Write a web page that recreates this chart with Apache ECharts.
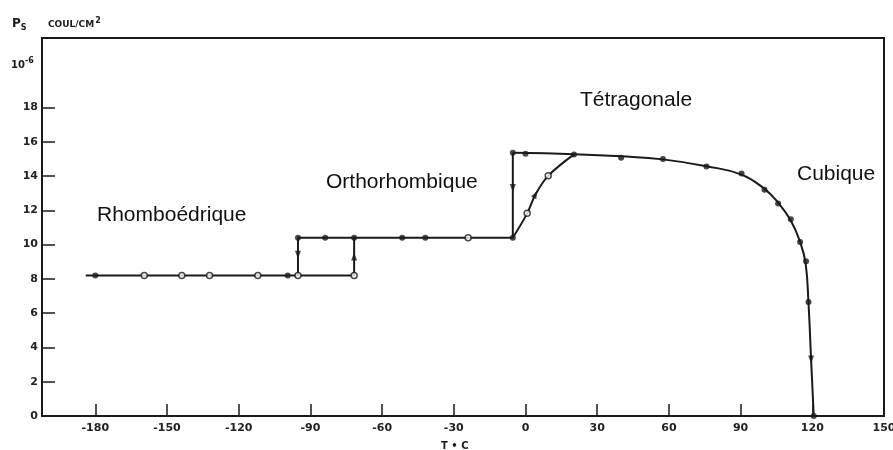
<!DOCTYPE html>
<html><head><meta charset="utf-8">
<script src="https://cdn.jsdelivr.net/npm/echarts@6/dist/echarts.min.js"></script>
<style>html,body{margin:0;padding:0;background:#fff}#c{width:893px;height:450px}</style>
</head><body><div id="c"></div>
<script>
// tick labels
const xTicks = [-180,-150,-120,-90,-60,-30,0,30,60,90,120,150];
const xTickMarks = [-180,-150,-120,-90,-60,-30,0,30,60,90,120];
const yTicks = [0,2,4,6,8,10,12,14,16,18];
const yTickMarks = [2,4,6,8,10,12,14,16,18];

// lines (T in °C, Ps in 1e-6 C/cm²)
const rhombLine = [[-184,8.2],[-71.7,8.2],[-71.7,10.4]];
const coolStep = [[-95.2,10.4],[-95.2,8.2]];
const orthoLine = [[-95.2,10.4],[-5.3,10.4],[-5.3,15.35]];
const riseCurve = [[-5.3,10.4],[0.7,11.82],[4.2,12.93],[9.5,14.01],[20.3,15.26]];
const tetraCurve = [[-5.3,15.35],[20.3,15.27],[40,15.15],[57.5,14.97],[75.7,14.57],[90.4,14.08],[100,13.25],[105.7,12.45],[111,11.4],[114.9,10.15],[117.2,8.9],[118.4,6.6],[119.5,3.3],[120.6,0]];

// measured points
const filledPts = [[-180,8.2],[-99.5,8.2],[-95.2,10.4],[-83.8,10.4],[-71.7,10.4],[-51.6,10.4],[-41.9,10.4],[-5.3,10.4],[-5.3,15.35],[0,15.3],[20.3,15.26],[40,15.06],[57.5,14.99],[75.7,14.55],[90.4,14.15],[100,13.2],[105.7,12.4],[111,11.47],[114.9,10.15],[117.4,9.02],[118.4,6.65],[120.6,0]];
const openPts = [[-159.5,8.2],[-143.8,8.2],[-132.2,8.2],[-112,8.2],[-95.2,8.2],[-71.7,8.2],[-24,10.4],[0.7,11.82],[9.5,14.01]];
const arrowsDown = [[-95.2,9.4],[-5.3,13.3],[119.5,3.3]];
const arrowsUp = [[-71.7,9.3]];
const arrowsTilt = [[4.2,12.93]];

const phaseNames = ['Rhomboédrique','Orthorhombique','Tétragonale','Cubique'];

const INK = '#1a1a1a';
const chart = echarts.init(document.getElementById('c'));
const lineS = (data, smooth) => ({
  type: 'line', data, symbol: 'none', smooth: smooth || false,
  lineStyle: {color: INK, width: 2}, silent: true, z: 2
});
const axisFont = {fontFamily: 'DejaVu Sans', fontSize: 11, fontWeight: 'bold', color: '#222'};
const phasePos = [[97, 217], [326, 184], [580, 102], [797, 176]];

chart.setOption({
  animation: false,
  backgroundColor: '#fff',
  grid: {left: 42, right: 9, top: 38, bottom: 34, containLabel: false, outerBoundsMode: 'none',
         show: true, borderColor: INK, borderWidth: 2},
  xAxis: {
    type: 'value', min: -202.3, max: 150,
    axisLine: {show: true, onZero: false, lineStyle: {color: INK, width: 2}},
    axisTick: {show: true, inside: true, length: 12, customValues: xTickMarks, lineStyle: {color: INK, width: 1.5}},
    axisLabel: {show: true, customValues: xTicks, margin: 7, ...axisFont},
    splitLine: {show: false}
  },
  yAxis: {
    type: 'value', min: 0, max: 22.05,
    axisLine: {show: true, onZero: false, lineStyle: {color: INK, width: 2}},
    axisTick: {show: true, inside: true, length: 13, customValues: yTickMarks, lineStyle: {color: INK, width: 1.5}},
    axisLabel: {show: true, customValues: yTicks, margin: 4, ...axisFont},
    splitLine: {show: false}
  },
  series: [
    lineS(rhombLine), lineS(coolStep), lineS(orthoLine),
    lineS(riseCurve, 0.35), lineS(tetraCurve, 0.45),
    {type: 'scatter', data: filledPts, symbol: 'circle', symbolSize: 6,
     itemStyle: {color: INK}, silent: true, z: 3},
    {type: 'scatter', data: openPts, symbol: 'circle', symbolSize: 6,
     itemStyle: {color: '#fff', borderColor: INK, borderWidth: 1.5}, silent: true, z: 3},
    {type: 'scatter', data: arrowsDown, symbol: 'triangle', symbolSize: [6, 8], symbolRotate: 180,
     itemStyle: {color: INK}, silent: true, z: 3},
    {type: 'scatter', data: arrowsUp, symbol: 'triangle', symbolSize: [6, 8],
     itemStyle: {color: INK}, silent: true, z: 3},
    {type: 'scatter', data: arrowsTilt, symbol: 'triangle', symbolSize: [6, 8], symbolRotate: -29,
     itemStyle: {color: INK}, silent: true, z: 3}
  ],
  graphic: [
    ...phaseNames.map((t, i) => ({type: 'text', left: phasePos[i][0], top: phasePos[i][1] - 12,
      style: {text: t, font: '21px "Liberation Sans", Arial, sans-serif', fill: '#111'}})),
    {type: 'text', left: 12, top: 18, style: {
      text: '{p|P}{s|S}', rich: {p: {fontFamily: 'DejaVu Sans', fontSize: 12, fontWeight: 'bold', fill: INK},
        s: {fontFamily: 'DejaVu Sans', fontSize: 8, fontWeight: 'bold', fill: INK, padding: [7, 0, 0, 0]}}}},
    {type: 'text', left: 48, top: 17, style: {
      text: '{t|COUL/CM}{u|2}', rich: {t: {fontFamily: 'DejaVu Sans', fontSize: 9, fontWeight: 'bold', fill: INK, padding: [4,0,0,0]},
        u: {fontFamily: 'DejaVu Sans', fontSize: 8, fontWeight: 'bold', fill: INK, padding: [0, 0, 4, 1]}}}},
    {type: 'text', left: 11, top: 57, style: {
      text: '{t|10}{u|-6}', rich: {t: {fontFamily: 'DejaVu Sans', fontSize: 10, fontWeight: 'bold', fill: INK, padding: [4,0,0,0]},
        u: {fontFamily: 'DejaVu Sans', fontSize: 8, fontWeight: 'bold', fill: INK, padding: [0, 0, 4, 0]}}}},
    {type: 'text', left: 441, top: 441, style: {text: 'T • C', font: 'bold 10px "DejaVu Sans"', fill: INK}}
  ]
});
</script></body></html>
